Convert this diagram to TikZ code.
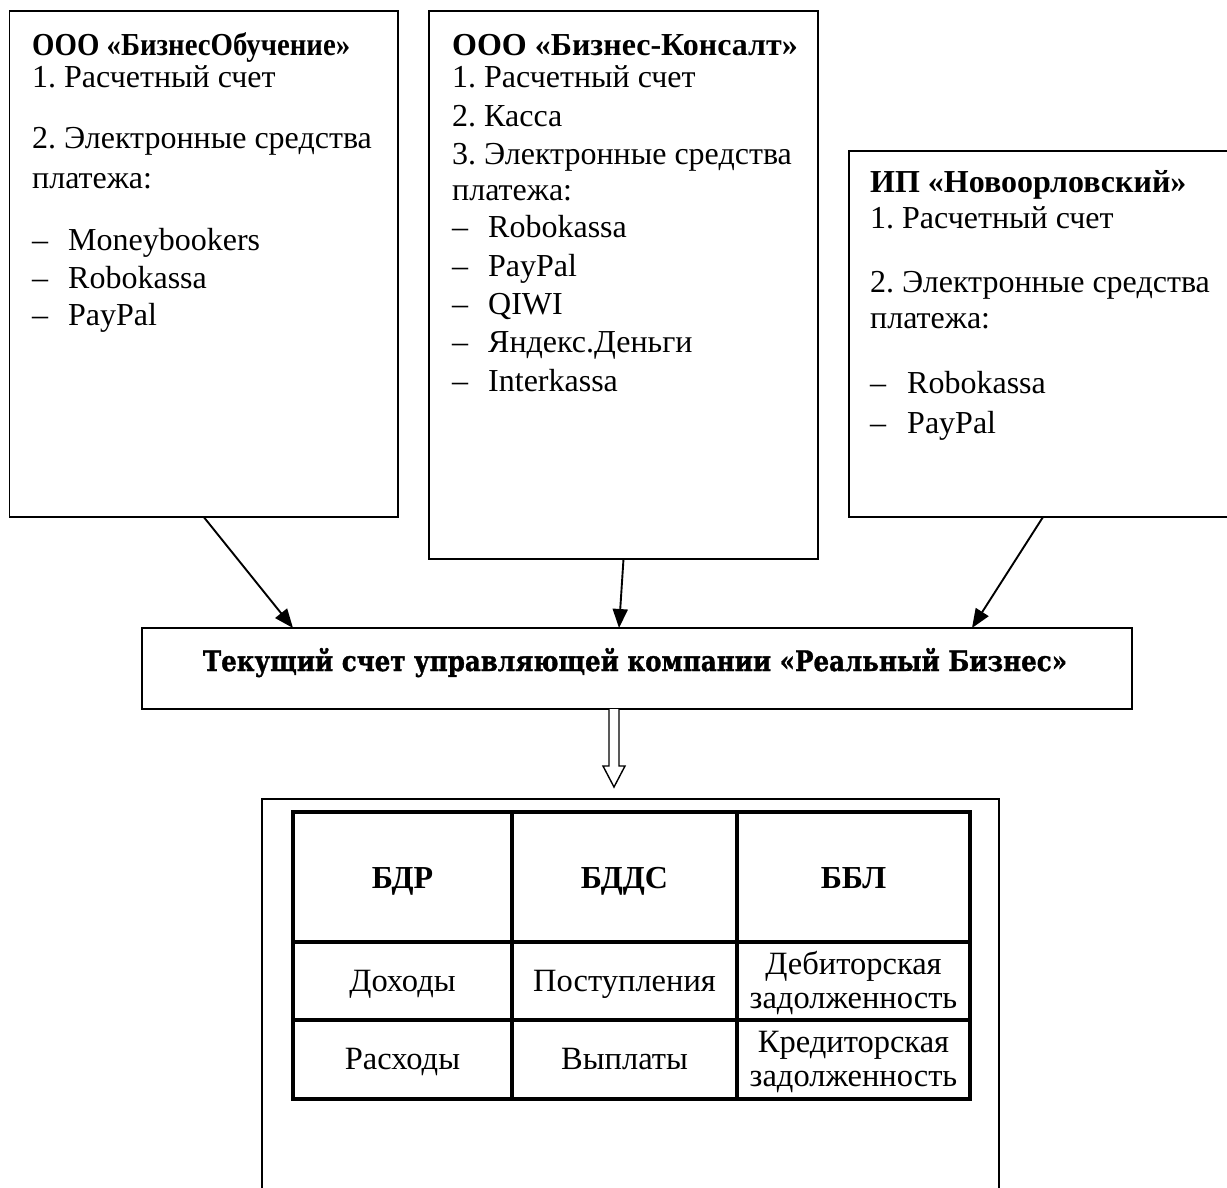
\documentclass[tikz,border=0pt]{standalone}
\usepackage{fontspec}
\setmainfont{Liberation Serif}
\newfontfamily\slabfont[BoldFeatures={FakeBold=1.2}]{DejaVu Serif}
\usetikzlibrary{arrows.meta,calc}
\begin{document}
\frenchspacing
\begin{tikzpicture}[x=1pt,y=-1pt,
  box/.style={draw,line width=1.8pt,inner sep=0,outer sep=0},
  txt/.style={anchor=base west,inner sep=0,font=\fontsize{32}{36}\selectfont},
  ttl/.style={anchor=base west,inner sep=0,font=\fontsize{32}{36}\selectfont\bfseries},
  arr/.style={line width=1.9pt,-{Triangle[length=19pt,width=15pt]}},
  tline/.style={line width=3.3pt},
  hcell/.style={anchor=base,inner sep=0,font=\fontsize{32}{36}\selectfont\bfseries},
  cell/.style={anchor=base,inner sep=0,font=\fontsize{32.5}{36}\selectfont}]

\useasboundingbox (0,0) rectangle (1227,1187);
\fill[white] (0,0) rectangle (1227,1187);

% boxes
\node[box,minimum width=388.5pt,minimum height=506pt] (b1) at (203.75,264) {};
\node[box,minimum width=389pt,minimum height=548pt] (b2) at (623.5,285) {};
\node[box,minimum width=383pt,minimum height=366pt] (b3) at (1040.5,334) {};
\node[box,minimum width=990pt,minimum height=81pt] (cb) at (637,668.5) {};
\node[box,minimum width=737pt,minimum height=411pt] (ob) at (630.5,1004.5) {};

% box 1 text
\node[ttl] (a0) at (32,55) {\scalebox{0.9}[1]{ООО «БизнесОбучение»}};
\node[txt] (a1) at (32,87) {1. Расчетный счет};
\node[txt] (a2) at (32,148) {2. Электронные средства};
\node[txt] (a3) at (32,188) {платежа:};
\node[txt] (a4d) at (32,250) {–};
\node[txt] (a4) at (68,250) {Moneybookers};
\node[txt] (a5d) at (32,288) {–};
\node[txt] (a5) at (68,288) {Robokassa};
\node[txt] (a6d) at (32,325) {–};
\node[txt] (a6) at (68,325) {PayPal};

% box 2 text
\node[ttl] (c0) at (452,55) {ООО «Бизнес-Консалт»};
\node[txt] (c1) at (452,87) {1. Расчетный счет};
\node[txt] (c2) at (452,126) {2. Касса};
\node[txt] (c3) at (452,164) {3. Электронные средства};
\node[txt] (c4) at (452,200) {платежа:};
\node[txt] (c5d) at (452,237) {–};
\node[txt] (c5) at (488,237) {Robokassa};
\node[txt] (c6d) at (452,276) {–};
\node[txt] (c6) at (488,276) {PayPal};
\node[txt] (c7d) at (452,314) {–};
\node[txt] (c7) at (488,314) {QIWI};
\node[txt] (c8d) at (452,352) {–};
\node[txt] (c8) at (488,352) {Яндекс.Деньги};
\node[txt] (c9d) at (452,391) {–};
\node[txt] (c9) at (488,391) {Interkassa};

% box 3 text
\node[ttl] (d0) at (870,192) {ИП «Новоорловский»};
\node[txt] (d1) at (870,228) {1. Расчетный счет};
\node[txt] (d2) at (870,292) {2. Электронные средства};
\node[txt] (d3) at (870,328) {платежа:};
\node[txt] (d4d) at (870,393) {–};
\node[txt] (d4) at (907,393) {Robokassa};
\node[txt] (d5d) at (870,433) {–};
\node[txt] (d5) at (907,433) {PayPal};

% central text
\node[anchor=base,inner sep=0] (ct) at (635,671)
  {\resizebox{864pt}{23pt}{\slabfont\bfseries Текущий счет управляющей компании «Реальный Бизнес»}};

% arrows
\draw[arr] (b1.south) -- ($(cb.north west)+(151,0)$);
\draw[arr] (b2.south) -- ($(cb.north west)+(477,0)$);
\draw[arr] ([xshift=2.5pt]b3.south) -- ($(cb.north west)+(830,0)$);

% hollow arrow
\draw[line width=1.4pt,fill=white] ($(cb.south)+(-28,0)$) -- ++(0,57) -- ++(-6,0)
  -- ++(11,21) -- ++(11,-21) -- ++(-6,0) -- ++(0,-57);

% table
\draw[tline] (293,812) rectangle (970,1099);
\draw[tline] (512,812) -- (512,1099);
\draw[tline] (737,812) -- (737,1099);
\draw[tline] (293,942) -- (970,942);
\draw[tline] (293,1020) -- (970,1020);

\node[hcell] (h1) at (402.5,888) {БДР};
\node[hcell] (h2) at (624.5,888) {БДДС};
\node[hcell] (h3) at (853.5,888) {ББЛ};
\node[cell] (r11) at (402.5,991) {Доходы};
\node[cell] (r12) at (624.5,991) {Поступления};
\node[cell] (r13a) at (853.5,974) {Дебиторская};
\node[cell] (r13b) at (853.5,1008) {задолженность};
\node[cell] (r21) at (402.5,1069) {Расходы};
\node[cell] (r22) at (624.5,1069) {Выплаты};
\node[cell] (r23a) at (853.5,1052) {Кредиторская};
\node[cell] (r23b) at (853.5,1086) {задолженность};
\end{tikzpicture}
\end{document}
